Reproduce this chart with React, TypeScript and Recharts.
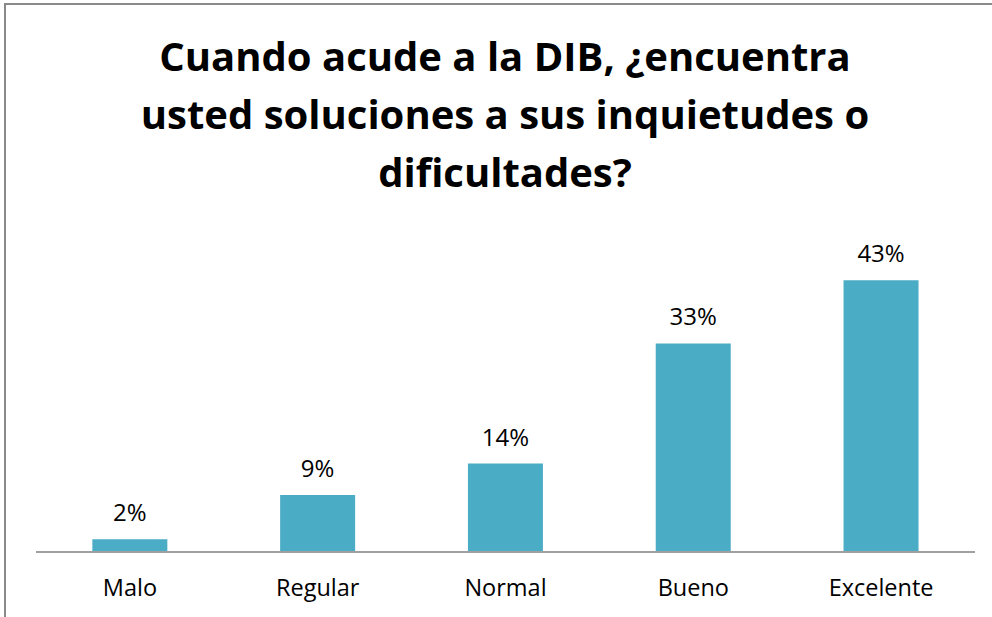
import { Bar, BarChart, LabelList, XAxis, YAxis } from "recharts";

const categories = ["Malo", "Regular", "Normal", "Bueno", "Excelente"];
const percents = [2, 9, 14, 33, 43];
const titleLines = [
  "Cuando acude a la DIB, ¿encuentra",
  "usted soluciones a sus inquietudes o",
  "dificultades?",
];

const data = categories.map((name, i) => ({ name, value: percents[i] }));

const font = "'Open Sans', sans-serif";

export default function App() {
  return (
    <div
      style={{
        position: "fixed",
        left: 0,
        top: 0,
        width: 992,
        height: 617,
        background: "#fff",
        overflow: "hidden",
        fontFamily: font,
      }}
    >
      {/* chart frame: only top and left edges are in view */}
      <div
        style={{
          position: "absolute",
          left: 4,
          top: 3,
          width: 988,
          height: 614,
          borderTop: "2px solid #8a8a8a",
          borderLeft: "2px solid #8a8a8a",
        }}
      />
      <div
        style={{
          position: "absolute",
          left: 0,
          top: 27,
          width: 1010,
          textAlign: "center",
          fontWeight: 700,
          fontSize: 40,
          lineHeight: "58px",
          color: "#000",
        }}
      >
        {titleLines.map((t) => (
          <div key={t}>{t}</div>
        ))}
      </div>
      <div style={{ position: "absolute", left: 0, top: 0 }}>
        <BarChart
          width={992}
          height={617}
          data={data}
          margin={{ top: 236, right: 17, bottom: 0, left: 36 }}
          barCategoryGap="30%"
        >
          <XAxis
            dataKey="name"
            height={65}
            tickLine={false}
            tickSize={0}
            tickMargin={27}
            axisLine={{ stroke: "#a0a0a0", strokeWidth: 2 }}
            tick={{ fill: "#000", fontSize: 23.5, fontFamily: font }}
          />
          <YAxis hide domain={[0, 50]} />
          <Bar dataKey="value" fill="#4BACC6" isAnimationActive={false}>
            <LabelList
              dataKey="value"
              position="top"
              offset={18}
              formatter={(v: number) => `${v}%`}
              style={{ fill: "#000", fontSize: 24, fontFamily: font }}
            />
          </Bar>
        </BarChart>
      </div>
    </div>
  );
}
